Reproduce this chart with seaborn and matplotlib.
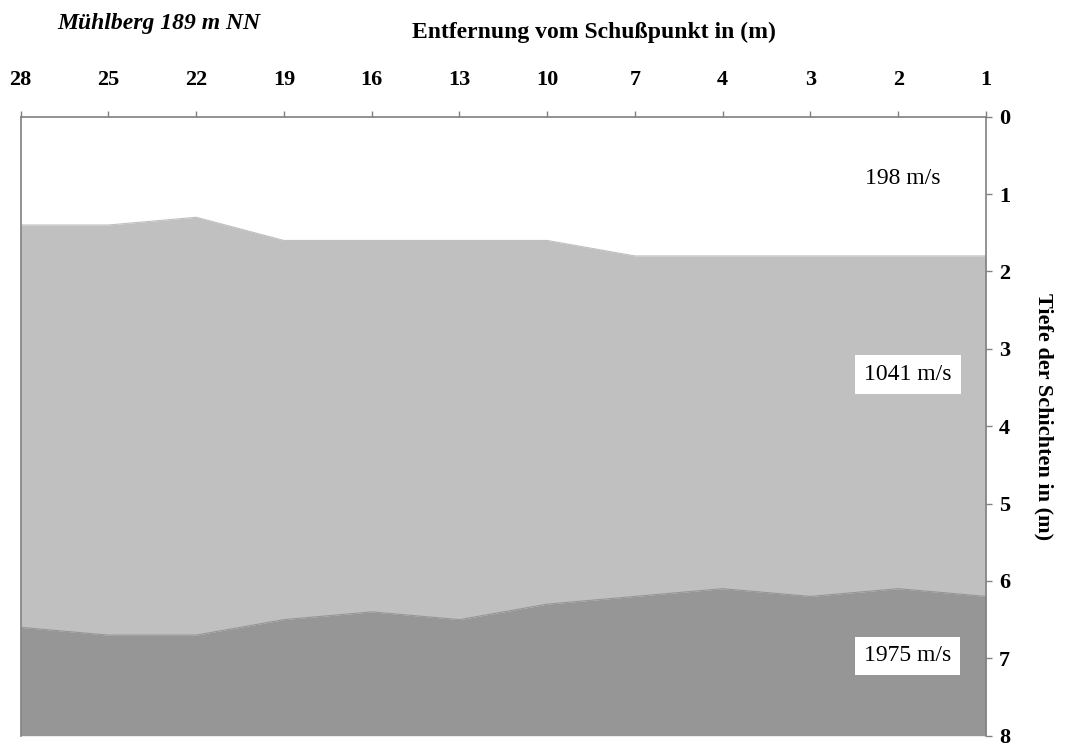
import pandas as pd
import seaborn as sns
import matplotlib.pyplot as plt
import numpy as np

# Data: distance from shot point (m) and depth of layer boundaries (m)
entfernung = ['28', '25', '22', '19', '16', '13', '10', '7', '4', '3', '2', '1']
schicht1 = [1.4, 1.4, 1.3, 1.6, 1.6, 1.6, 1.6, 1.8, 1.8, 1.8, 1.8, 1.8]
schicht2 = [6.6, 6.7, 6.7, 6.5, 6.4, 6.5, 6.3, 6.2, 6.1, 6.2, 6.1, 6.2]
geschw = ['198 m/s', '1041 m/s', '1975 m/s']
max_tiefe = 8

df = pd.DataFrame({'pos': np.arange(len(entfernung)), 'entfernung': entfernung,
                   's1': schicht1, 's2': schicht2})

sns.set_style('white')
plt.rcParams['font.family'] = ['Liberation Serif', 'DejaVu Serif']
plt.rcParams['text.color'] = 'black'
plt.rcParams['xtick.color'] = 'black'
plt.rcParams['ytick.color'] = 'black'
plt.rcParams['axes.labelcolor'] = 'black'

fig = plt.figure(figsize=(10.65, 7.45), dpi=100)
ax = fig.add_axes([0.0194, 0.0125, 0.9064, 0.8309])

# layers
ax.fill_between(df['pos'], df['s1'], df['s2'], color='#c0c0c0', lw=0)
ax.fill_between(df['pos'], df['s2'], max_tiefe, color='#969696', lw=0)
sns.lineplot(data=df, x='pos', y='s1', ax=ax, color='#c0c0c0', lw=0.8)
sns.lineplot(data=df, x='pos', y='s2', ax=ax, color='#969696', lw=0.8)

ax.set_xlim(0, len(entfernung) - 1)
ax.set_ylim(max_tiefe, 0)

# axes on top and right
ax.xaxis.tick_top()
ax.yaxis.tick_right()
ax.set_xticks(df['pos'])
ax.set_xticklabels(entfernung, fontsize=16, fontweight='bold')
ax.set_yticks(range(0, max_tiefe + 1))
ax.set_yticklabels([str(i) for i in range(0, max_tiefe + 1)], fontsize=16, fontweight='bold')
ax.tick_params(axis='x', direction='out', length=4.5, width=1, color='#808080', pad=15)
ax.tick_params(axis='y', direction='out', length=4.5, width=1, color='#808080', pad=5)
ax.spines['bottom'].set_visible(False)
for s in ['top', 'right', 'left']:
    ax.spines[s].set_color('#808080')
    ax.spines[s].set_linewidth(1.2)
ax.set_xlabel('')
ax.set_ylabel('Tiefe der Schichten in (m)', fontsize=16, fontweight='bold',
              rotation=270, va='center')
ax.yaxis.set_label_position('right')
ax.yaxis.set_label_coords(1.07, 0.515)

# velocity labels
ax.text(10.05, 0.8, geschw[0], fontsize=17, ha='center', va='center')
ax.text(10.11, 3.33, geschw[1], fontsize=17, ha='center', va='center',
        bbox=dict(facecolor='white', edgecolor='none', pad=6.5))
ax.text(10.11, 6.97, geschw[2], fontsize=17, ha='center', va='center',
        bbox=dict(facecolor='white', edgecolor='none', pad=6.5))

fig.text(0.149, 0.969, 'Mühlberg 189 m NN', fontsize=17, fontweight='bold',
         fontstyle='italic', ha='center', va='center')
fig.text(0.558, 0.957, 'Entfernung vom Schußpunkt in (m)', fontsize=17,
         fontweight='bold', ha='center', va='center')

fig.savefig('out.png', dpi=100)
